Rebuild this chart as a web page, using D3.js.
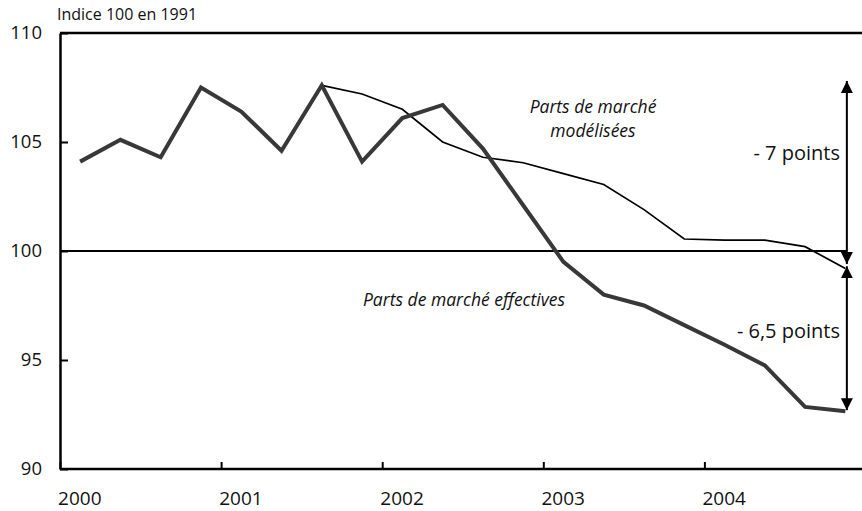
<!DOCTYPE html>
<html>
<head>
<meta charset="utf-8">
<script src="https://cdn.jsdelivr.net/npm/d3@7/dist/d3.min.js"></script>
<style>
  body { margin: 0; background: #fff; }
  svg { display: block; font-family: "Open Sans", sans-serif; }
</style>
</head>
<body>
<div id="chart"></div>
<script>
// quarterly data, 2000 Q1 -> 2004 Q4
var quarters = d3.range(20).map(function(i) { return 2000 + (i + 0.5) / 4; });

var effective = [104.1, 105.1, 104.3, 107.5, 106.4, 104.6, 107.6, 104.1, 106.1, 106.7,
                 104.7, 102.1, 99.5, 98.0, 97.5, 96.6, 95.7, 94.75, 92.85, 92.65];

// modelled shares start at 2001 Q3
var modelled = [null, null, null, null, null, null, 107.6, 107.2, 106.5, 105.0,
                104.3, 104.05, 103.55, 103.05, 101.9, 100.55, 100.5, 100.5, 100.2, 99.2];

var yearTicks = [2000, 2001, 2002, 2003, 2004];
var valueTicks = [90, 95, 100, 105, 110];

var width = 862, height = 511;

var svg = d3.select("#chart")
  .append("svg")
  .attr("width", width)
  .attr("height", height);

var x = d3.scaleLinear().domain([2000, 2005]).range([60, 865.5]);
var y = d3.scaleLinear().domain([90, 110]).range([469, 33]);

// top frame line
svg.append("line")
  .attr("x1", x(2000)).attr("x2", width)
  .attr("y1", y(110)).attr("y2", y(110))
  .style("stroke", "#000")
  .style("stroke-width", 2.5);

// x axis
var xAxis = svg.append("g")
  .attr("transform", "translate(0," + y(90) + ")")
  .call(d3.axisBottom(x)
    .tickValues(yearTicks)
    .tickFormat(d3.format("d"))
    .tickSizeInner(-7)
    .tickSizeOuter(0)
    .tickPadding(23));
xAxis.select(".domain").remove();
xAxis.selectAll("line").style("stroke", "#000").style("stroke-width", 2);
xAxis.selectAll("text")
  .attr("x", x(2000.12) - x(2000))
  .style("font-size", "19px")
  .style("font-family", "Open Sans, sans-serif")
  .style("fill", "#111");
svg.append("line")
  .attr("x1", x(2000)).attr("x2", width)
  .attr("y1", y(90)).attr("y2", y(90))
  .style("stroke", "#000")
  .style("stroke-width", 2.5);

// y axis
var yAxis = svg.append("g")
  .attr("transform", "translate(" + x(2000) + ",0)")
  .call(d3.axisLeft(y)
    .tickValues(valueTicks)
    .tickSizeInner(-8)
    .tickSizeOuter(0)
    .tickPadding(18));
yAxis.select(".domain").style("stroke", "#000").style("stroke-width", 2.5);
yAxis.selectAll("line").style("stroke", "#000").style("stroke-width", 2);
yAxis.selectAll("text")
  .style("font-size", "18.5px")
  .style("font-family", "Open Sans, sans-serif")
  .style("fill", "#111");

// units label
svg.append("text")
  .attr("x", 57)
  .attr("y", 20)
  .style("font-size", "16px")
  .style("fill", "#111")
  .text("Indice 100 en 1991");

// 100 reference line
svg.append("line")
  .attr("x1", x(2000)).attr("x2", x(quarters[19]) + 1.5)
  .attr("y1", y(100)).attr("y2", y(100))
  .style("stroke", "#000")
  .style("stroke-width", 2);

var line = d3.line()
  .defined(function(d) { return d[1] != null; })
  .x(function(d) { return x(d[0]); })
  .y(function(d) { return y(d[1]); });

// modelled (thin)
svg.append("path")
  .datum(d3.zip(quarters, modelled))
  .attr("d", line)
  .style("fill", "none")
  .style("stroke", "#000")
  .style("stroke-width", 1.7);

// effective (thick)
svg.append("path")
  .datum(d3.zip(quarters, effective))
  .attr("d", line)
  .style("fill", "none")
  .style("stroke", "#383838")
  .style("stroke-width", 4)
  .style("stroke-linejoin", "miter");

// arrows
var defs = svg.append("defs");
defs.append("marker")
  .attr("id", "head")
  .attr("viewBox", "0 0 10 10")
  .attr("refX", 10).attr("refY", 5)
  .attr("markerUnits", "userSpaceOnUse")
  .attr("markerWidth", 12).attr("markerHeight", 13)
  .attr("orient", "auto-start-reverse")
  .append("path")
  .attr("d", "M0,0 L10,5 L0,10 Z")
  .style("fill", "#000");

var ax = x(quarters[19]) + 1.5;

svg.append("line")
  .attr("x1", ax).attr("x2", ax)
  .attr("y1", y(107.8)).attr("y2", y(99.4))
  .attr("marker-start", "url(#head)")
  .attr("marker-end", "url(#head)")
  .style("stroke", "#000")
  .style("stroke-width", 2);

svg.append("line")
  .attr("x1", ax).attr("x2", ax)
  .attr("y1", y(99.3)).attr("y2", y(92.7))
  .attr("marker-start", "url(#head)")
  .attr("marker-end", "url(#head)")
  .style("stroke", "#000")
  .style("stroke-width", 2);

svg.append("text")
  .attr("x", 840).attr("y", 160)
  .attr("text-anchor", "end")
  .style("font-size", "20px")
  .style("fill", "#111")
  .text("- 7 points");

svg.append("text")
  .attr("x", 840).attr("y", 338)
  .attr("text-anchor", "end")
  .style("font-size", "20px")
  .style("fill", "#111")
  .text("- 6,5 points");

// series labels
var modLabel = svg.append("text")
  .attr("text-anchor", "middle")
  .style("font-size", "17.5px")
  .style("font-style", "italic")
  .style("fill", "#111");
modLabel.append("tspan").attr("x", 593).attr("y", 113).text("Parts de marché");
modLabel.append("tspan").attr("x", 593).attr("y", 137).text("modélisées");

svg.append("text")
  .attr("x", 464).attr("y", 306)
  .attr("text-anchor", "middle")
  .style("font-size", "17.5px")
  .style("font-style", "italic")
  .style("fill", "#111")
  .text("Parts de marché effectives");
</script>
</body>
</html>
